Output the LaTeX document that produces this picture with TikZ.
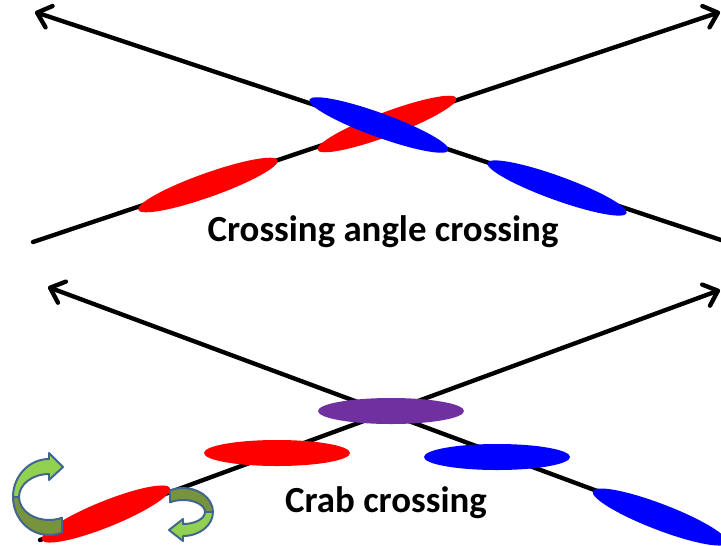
\documentclass[tikz,border=0pt]{standalone}
\usepackage{fontspec}
\setmainfont{Carlito}
\usetikzlibrary{arrows.meta,shapes.geometric}

\definecolor{bunchred}{RGB}{255,0,0}
\definecolor{bunchblue}{RGB}{0,0,255}
\definecolor{bunchpurple}{RGB}{112,48,160}
\definecolor{leaflight}{RGB}{146,208,80}
\definecolor{leafdark}{RGB}{119,147,60}
\definecolor{leafedge}{RGB}{65,100,145}

\begin{document}
\begin{tikzpicture}[
    x=0.025cm, y=-0.025cm,
    beamline/.style={line width=3.1pt, line cap=round, -{Straight Barb[length=9pt,width=16pt,round]}},
    bunch/.style={ellipse, inner sep=0pt, minimum width=3.7cm, minimum height=0.6cm},
    flatbunch/.style={ellipse, inner sep=0pt, minimum width=3.65cm, minimum height=0.65cm},
    caption/.style={font=\fontsize{26.2}{31}\selectfont\bfseries, anchor=base},
    turn/.style={draw=leafedge, line width=1.4pt, line join=round}
]
\useasboundingbox (0,0) rectangle (721,545);

% === CROSSING ANGLE (top) ===
\coordinate (a0) at (33,242);
\coordinate (a1) at (720,12);
\coordinate (b0) at (721,240);
\coordinate (b1) at (35,12);
\draw[beamline] (a0) -- (a1);
\draw[beamline] (b0) -- (b1);

% bunches along the two beams
\node[bunch, fill=bunchred, rotate=19.6] (redL) at (208,185) {};
\node[bunch, fill=bunchred, rotate=20.5] (redC) at (387,124) {};
\node[bunch, fill=bunchblue, rotate=-20] (blueC) at (379,125) {};
\node[bunch, fill=bunchblue, rotate=-19.9] (blueR) at (557,188) {};

\node[caption] (title1) at (383,241.7) {Crossing angle crossing};

% === CRAB CROSSING (bottom) ===
\coordinate (c0) at (40,540);
\coordinate (c1) at (720,290);
\coordinate (d0) at (721,537);
\coordinate (d1) at (48,287);
\draw[beamline] (c0) -- (c1);
\draw[beamline] (d0) -- (d1);

% tilted bunches far away, flat bunches near the crossing
\node[bunch, fill=bunchred, minimum width=3.45cm, minimum height=0.65cm, rotate=22] (redT) at (106,514) {};
\node[flatbunch, fill=bunchred] (redF) at (277,453) {};
\node[flatbunch, fill=bunchpurple] (mixF) at (391,411) {};
\node[flatbunch, fill=bunchblue] (blueF) at (497,457) {};
\node[bunch, fill=bunchblue, minimum width=3.6cm, minimum height=0.65cm, rotate=-21] (blueT) at (660,517) {};

% crab rotation arrows at the ends of the red bunch
\filldraw[turn, fill=leaflight] (13,497) arc[start angle=180, end angle=270, x radius=36, y radius=38]
    -- (49,453) -- (63,467) -- (49,480) -- (49,474)
    arc[start angle=270, end angle=180, x radius=30, y radius=23] -- cycle;
\filldraw[turn, fill=leafdark] (13,497) arc[start angle=180, end angle=68.8, x radius=36, y radius=38]
    -- (62,517.7) arc[start angle=64.3, end angle=180, x radius=30, y radius=23] -- cycle;

\filldraw[turn, fill=leafdark] (170,490.4) arc[start angle=244.3, end angle=360, x radius=30, y radius=24]
    -- (205,512) arc[start angle=360, end angle=233.8, x radius=22, y radius=12] -- cycle;
\filldraw[turn, fill=leaflight] (213,512) arc[start angle=0, end angle=90, x radius=30, y radius=24]
    -- (183,541) -- (169,530) -- (183,519) -- (183,524)
    arc[start angle=90, end angle=0, x radius=22, y radius=12] -- cycle;

\node[caption] (title2) at (386,512.7) {Crab crossing};

\end{tikzpicture}
\end{document}
